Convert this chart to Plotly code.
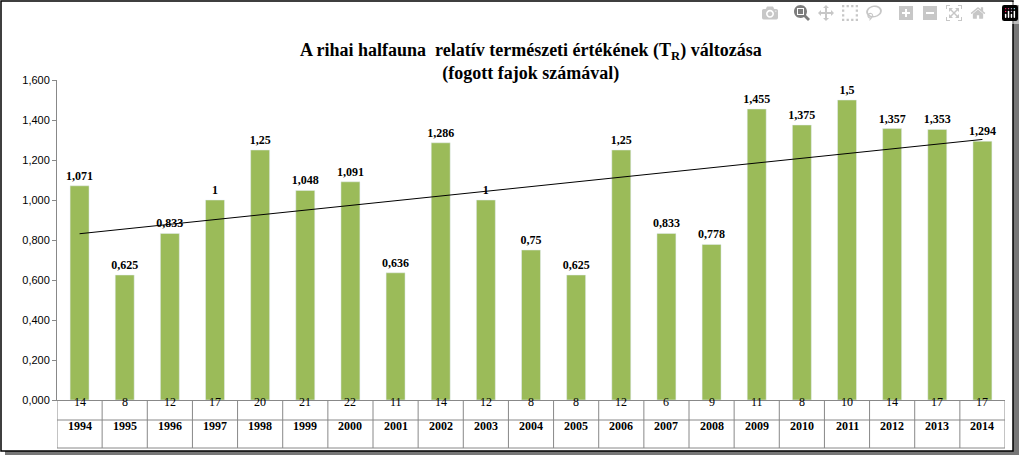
import plotly.graph_objects as go
import numpy as np

years = [str(y) for y in range(1994, 2015)]
values = [1.071,0.625,0.833,1,1.25,1.048,1.091,0.636,1.286,1,0.75,0.625,1.25,0.833,0.778,1.455,1.375,1.5,1.357,1.353,1.294]
species = [14,8,12,17,20,21,22,11,14,12,8,8,12,6,9,11,8,10,14,17,17]
yticks = [0,0.2,0.4,0.6,0.8,1.0,1.2,1.4,1.6]

def fmt(v):
    s = ("%.3f" % v).rstrip("0").rstrip(".")
    return s.replace(".", ",")

W, H = 1024, 458
L, R, T, B = 57, 19, 80, 58
pw, ph = W - L - R, H - T - B
def px(x): return (x - L) / pw
def py(y): return (H - B - y) / ph

idx = list(range(len(years)))
coef = np.polyfit(idx, values, 1)
trend = [coef[0]*i + coef[1] for i in idx]

fig = go.Figure()
fig.add_bar(x=idx, y=values, marker_color="#9BBB59", width=0.42,
            text=["<b>%s</b>" % fmt(v) for v in values], textposition="outside",
            textangle=0, constraintext="none",
            textfont=dict(family="Liberation Serif", size=12, color="black"), cliponaxis=False)
fig.add_scatter(x=idx, y=trend, mode="lines", line=dict(color="black", width=1))

font_t = dict(family="Liberation Serif", size=12, color="black")
anns = [dict(text="<b>A rihai halfauna  relatív természeti értékének (T<sub>R</sub>) változása<br>(fogott fajok számával)</b>",
             x=0.5, xref="paper", y=py(38), yref="paper", showarrow=False,
             font=dict(family="Liberation Serif", size=18, color="black"))]
for i in idx:
    anns.append(dict(text=str(species[i]), x=i, xref="x", y=py(411), yref="paper", showarrow=False, font=font_t))
    anns.append(dict(text="<b>%s</b>" % years[i], x=i, xref="x", y=py(435), yref="paper", showarrow=False, font=font_t))
shapes = [dict(type="line", xref="paper", yref="paper", x0=0, x1=1, y0=py(420), y1=py(420), line=dict(color="#888", width=1)),
          dict(type="line", xref="paper", yref="paper", x0=0, x1=1, y0=py(448), y1=py(448), line=dict(color="#888", width=1))]
for i in range(len(years)+1):
    shapes.append(dict(type="line", xref="x", yref="paper", x0=i-0.5, x1=i-0.5, y0=0, y1=py(448), line=dict(color="#888", width=1)))
shapes.append(dict(type="rect", xref="paper", yref="paper", x0=px(5), x1=px(1019), y0=py(455), y1=py(5), fillcolor="#777", line=dict(width=0), layer="below"))
shapes.append(dict(type="rect", xref="paper", yref="paper", x0=px(1), x1=px(1013), y0=py(451), y1=py(1), fillcolor="white", line=dict(color="black", width=1.5), layer="below"))

fig.update_layout(width=W, height=H, margin=dict(l=L, r=R, t=T, b=B),
                  paper_bgcolor="white", plot_bgcolor="rgba(0,0,0,0)", showlegend=False,
                  annotations=anns, shapes=shapes,
                  xaxis=dict(range=[-0.5, 20.5], showticklabels=False, showgrid=False, zeroline=False,
                             showline=True, linecolor="#888"),
                  yaxis=dict(range=[0, 1.6], tickvals=yticks, ticktext=[("%.3f" % v).replace(".", ",") for v in yticks],
                             tickfont=dict(family="Liberation Sans", size=11, color="black"),
                             showgrid=False, zeroline=False, showline=True, linecolor="#888",
                             ticks="outside", ticklen=4, tickcolor="#888"))
fig.write_html("out.html", post_script="document.body.style.margin='0';document.body.style.overflow='hidden';")
